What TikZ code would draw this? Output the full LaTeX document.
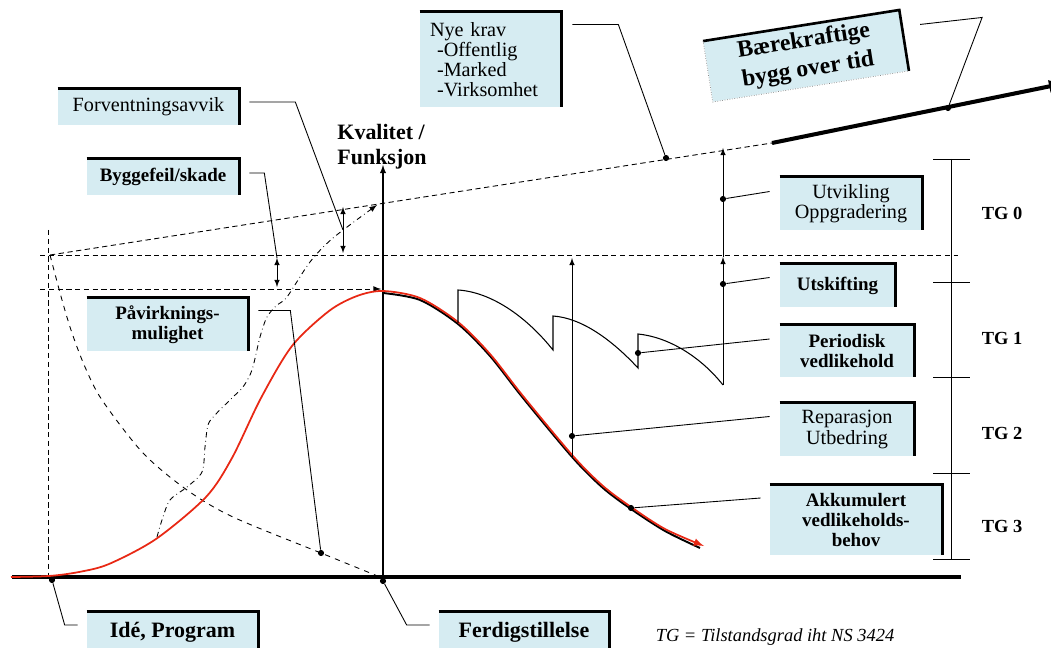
\documentclass[tikz,border=0pt]{standalone}
\usepackage{fontspec}
\setmainfont{Liberation Serif}
\usetikzlibrary{arrows}
\definecolor{boxblue}{RGB}{214,236,242}
\definecolor{curvered}{RGB}{232,40,20}
\tikzset{
    box/.style={
        fill=boxblue,
        inner sep=0pt,
        align=center,
        font=\fontsize{11.5}{11.4}\selectfont,
    },
    boldbox/.style={
        box,
        font=\fontsize{10.8}{11.4}\selectfont\bfseries,
    },
    bigbox/.style={
        box,
        font=\fontsize{12.5}{14}\selectfont\bfseries,
    },
    boxedge/.style={
        draw=black,
        line width=1.5pt,
    },
    lead/.style={
        draw,
        line width=0.5pt,
    },
    dot/.style={
        circle,
        fill=black,
        inner sep=0pt,
        minimum size=3.5pt,
    },
    guide/.style={
        draw,
        line width=0.5pt,
        dash pattern=on 3pt off 2pt,
    },
    tg/.style={
        font=\fontsize{10.5}{12}\selectfont\bfseries,
    },
    >=latex,
}

\begin{document}
\begin{tikzpicture}[x=0.02cm, y=-0.02cm]
    \useasboundingbox (0,0) rectangle (1051,648);

    % guide lines
    \draw[guide] (40,255) -- (958,255);
    \draw[guide, ->] (40,289) -- (381,289);
    \draw[guide] (48,230) -- (48,577);
    \draw[guide] (50,255) -- (772,143);
    \draw[line width=2.3pt, ->] (772,143) -- (1066,83);

    % axes
    \draw[line width=2pt] (12,577) -- (961,577);
    \draw[semithick, ->] (383,580) -- (383,165);
    \node[font=\fontsize{12.5}{14.2}\selectfont\bfseries, align=left, inner sep=0pt] (kval) at (382,147) {Kvalitet /\\Funksjon};

    % curves
    \draw[dashed, line width=0.5pt] plot[smooth] coordinates {(50,255) (62,300) (72,333) (85,367) (102,400) (143,453) (187,490) (233,517) (321,553) (380,577)};
    \draw[dash dot, line width=0.5pt, ->] plot[smooth] coordinates {(157,537) (162,520) (170,500) (187,487) (202,472) (205,447) (208,425) (215,415) (233,397) (243,387) (252,370) (260,337) (267,317) (277,305) (287,297) (310,262) (333,238) (377,205)};
    \draw[line width=1.1pt] plot[smooth] coordinates {(383,293) (420,300) (458,324) (490,356) (523,398) (573,458) (603,488) (631,509) (665,531) (700,548)};
    \draw[curvered, line width=1pt, ->] plot[smooth] coordinates {(11,577) (49,576) (79,572) (109,564) (156,539) (206,497) (232,458) (261,398) (292,346) (329,311) (357,296) (383,291) (420,298) (458,322) (490,354) (523,396) (573,456) (603,486) (631,507) (665,529) (704,546)};
    \draw[semithick] (458,323) -- (458,290) .. controls (490,292) and (525,315) .. (553,350)
        -- (553,316) .. controls (582,318) and (612,340) .. (638,368)
        -- (638,334) .. controls (668,337) and (700,356) .. (723,385);

    % arrows
    \coordinate (fvTop) at (343,207);
    \coordinate (fvMid) at (343,230);
    \coordinate (fvBot) at (343,253);
    \coordinate (bgTop) at (277,258);
    \coordinate (bgBot) at (277,287);
    \draw[latex-latex] (fvTop) -- (fvBot);
    \draw[latex-latex] (bgTop) -- (bgBot);
    \draw[->] (572,457) -- (572,258);
    \draw[->] (723,385) -- (723,257);
    \draw[->] (723,257) -- (723,148);

    % TG scale
    \draw (951,159) -- (951,559);
    \foreach \y in {159,282,377,473,559}
        \draw (933,\y) -- (970,\y);
    \node[tg] (tg0) at (1002,213) {TG 0};
    \node[tg] (tg1) at (1002,338) {TG 1};
    \node[tg] (tg2) at (1002,433) {TG 2};
    \node[tg] (tg3) at (1002,526) {TG 3};
    \node[font=\fontsize{10.5}{12}\selectfont\itshape] (note) at (775,637) {TG = Tilstandsgrad iht NS 3424};

    % boxes
    \node[box, align=left, text width=2.42cm, inner xsep=0.2cm, minimum height=1.9cm] (nyekrav) at (490.5,59.5) {Nye krav\\\hspace*{4pt}-Offentlig\\\hspace*{4pt}-Marked\\\hspace*{4pt}-Virksomhet};
    \node[box, minimum width=3.62cm, minimum height=0.72cm] (forvent) at (148.5,107) {Forventningsavvik};
    \node[boldbox, minimum width=3.04cm, minimum height=0.72cm] (bygge) at (163,177) {Byggefeil/skade};
    \node[boldbox, minimum width=3.22cm, minimum height=1.06cm] (pavirk) at (167.5,324.5) {Påvirknings-\\mulighet};
    \node[bigbox, minimum width=3.42cm, minimum height=0.8cm] (ide) at (172.5,632) {Idé, Program};
    \node[bigbox, minimum width=3.4cm, minimum height=0.8cm] (ferdig) at (524,632) {Ferdigstillelse};
    \node[box, font=\fontsize{13.5}{16.5}\selectfont\bfseries, minimum width=3.96cm, minimum height=1.22cm, rotate=9] (baere) at (806,56) {Bærekraftige\\bygg over tid};
    \node[box, minimum width=2.84cm, minimum height=1.06cm] (utvikling) at (851,203.5) {Utvikling\\Oppgradering};
    \node[boldbox, minimum width=2.3cm, minimum height=0.86cm] (utskift) at (837.5,285.5) {Utskifting};
    \node[boldbox, minimum width=2.68cm, minimum height=1.04cm] (periodisk) at (847,351) {Periodisk\\vedlikehold};
    \node[box, minimum width=2.68cm, minimum height=1.06cm] (repar) at (847,429.5) {Reparasjon\\Utbedring};
    \node[boldbox, minimum width=3.44cm, minimum height=1.4cm] (akkum) at (856,520) {Akkumulert\\vedlikeholds-\\behov};
    \foreach \b in {nyekrav,forvent,bygge,pavirk,ide,ferdig,baere,utvikling,utskift,periodisk,repar,akkum}
        \draw[boxedge] (\b.north west) -- (\b.north east) -- (\b.south east);
    \draw[densely dotted, gray] (baere.north west) -- (baere.south west) -- (baere.south east);

    % dots
    \node[dot] (dNye) at (666,158) {};
    \node[dot] (dBaere) at (948,108) {};
    \node[dot] (dUtv) at (723,199) {};
    \node[dot] (dUtsk) at (723,284) {};
    \node[dot] (dPer) at (638,353) {};
    \node[dot] (dRep) at (572,436) {};
    \node[dot] (dAkk) at (631,508) {};
    \node[dot] (dPav) at (321,553) {};
    \node[dot] (dIde) at (52,580) {};
    \node[dot] (dFerd) at (383,581) {};

    % leaders
    \draw[lead] (forvent.east) ++(10,-5) -- ++(46,0) -- (fvMid);
    \draw[lead] (bygge.east) ++(10,-4) -- ++(15,0) -- (bgTop);
    \draw[lead] (pavirk.east) ++(10,-14) -- ++(32,0) -- (dPav);
    \draw[lead] (nyekrav.east) ++(11,-35) -- ++(46,0) -- (dNye);
    \draw[lead] (baere.east) ++(16,-16) -- ++(62,-7) -- (dBaere);
    \draw[lead] (utvikling.west) ++(-10,-12) -- (dUtv);
    \draw[lead] (utskift.west) ++(-10,-8) -- (dUtsk);
    \draw[lead] (periodisk.west) ++(-10,-12) -- (dPer);
    \draw[lead] (repar.west) ++(-10,-13) -- (dRep);
    \draw[lead] (akkum.west) ++(-9,-22) -- (dAkk);
    \draw[lead] (ide.west) ++(-9,-7) -- ++(-13,0) -- (dIde);
    \draw[lead] (ferdig.west) ++(-9,-7) -- ++(-23,0) -- (dFerd);
\end{tikzpicture}
\end{document}
